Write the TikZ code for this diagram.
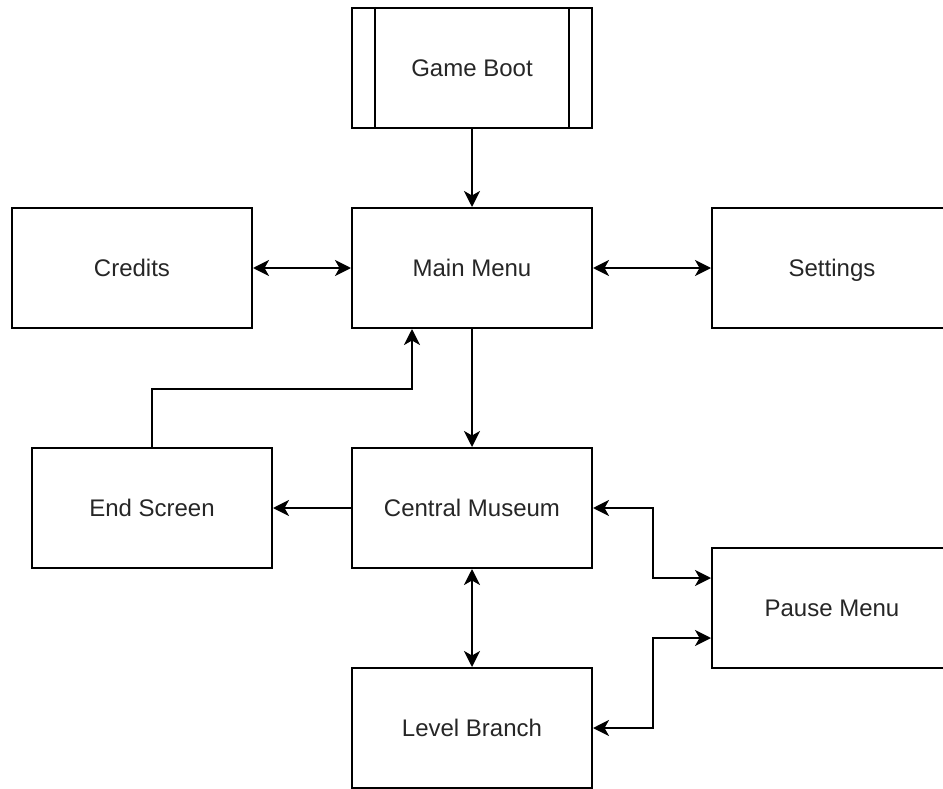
\documentclass[tikz,border=0pt]{standalone}
\usepackage{fontspec}
\setmainfont{Liberation Sans}
\usetikzlibrary{arrows.meta,calc}
\begin{document}
\begin{tikzpicture}[x=1pt,y=-1pt,
  box/.style={draw=black,line width=2pt,minimum width=240pt,minimum height=120pt,inner sep=0pt,
    font=\fontsize{24}{28}\selectfont,text=black!85,text height=21pt,text depth=4pt},
  link/.style={line width=2pt,draw=black},
  tip/.style={-{Stealth[length=16pt,width=16pt,inset=4.5pt]}},
  both/.style={{Stealth[length=16pt,width=16pt,inset=4.5pt]}-{Stealth[length=16pt,width=16pt,inset=4.5pt]}}
]
\useasboundingbox (0,0) rectangle (943,789);
\node[box] (boot) at (472,68) {Game Boot};
\draw[line width=2pt] ([xshift=24pt]boot.north west) -- ([xshift=24pt]boot.south west);
\draw[line width=2pt] ([xshift=-24pt]boot.north east) -- ([xshift=-24pt]boot.south east);
\node[box] (main) at (472,268) {Main Menu};
\node[box] (credits) at (132,268) {Credits};
\node[box] (settings) at (832,268) {Settings};
\node[box] (endscr) at (152,508) {End Screen};
\node[box] (museum) at (472,508) {Central Museum};
\node[box] (pause) at (832,608) {Pause Menu};
\node[box] (level) at (472,728) {Level Branch};

\draw[link,tip] (boot.south) -- (main.north);
\draw[link,both] (credits.east) -- (main.west);
\draw[link,both] (main.east) -- (settings.west);
\draw[link,tip] (main.south) -- (museum.north);
\draw[link,tip] (museum.west) -- (endscr.east);
\draw[link,tip] (endscr.north) |- ([xshift=-60pt,yshift=-60pt]main.south) -- ([xshift=-60pt]main.south);
\draw[link,both] (museum.south) -- (level.north);
\draw[link,both] (museum.east) -- ++(60,0) |- ([yshift=30pt]pause.west);
\draw[link,both] (level.east) -- ++(60,0) |- ([yshift=-30pt]pause.west);
\end{tikzpicture}
\end{document}
